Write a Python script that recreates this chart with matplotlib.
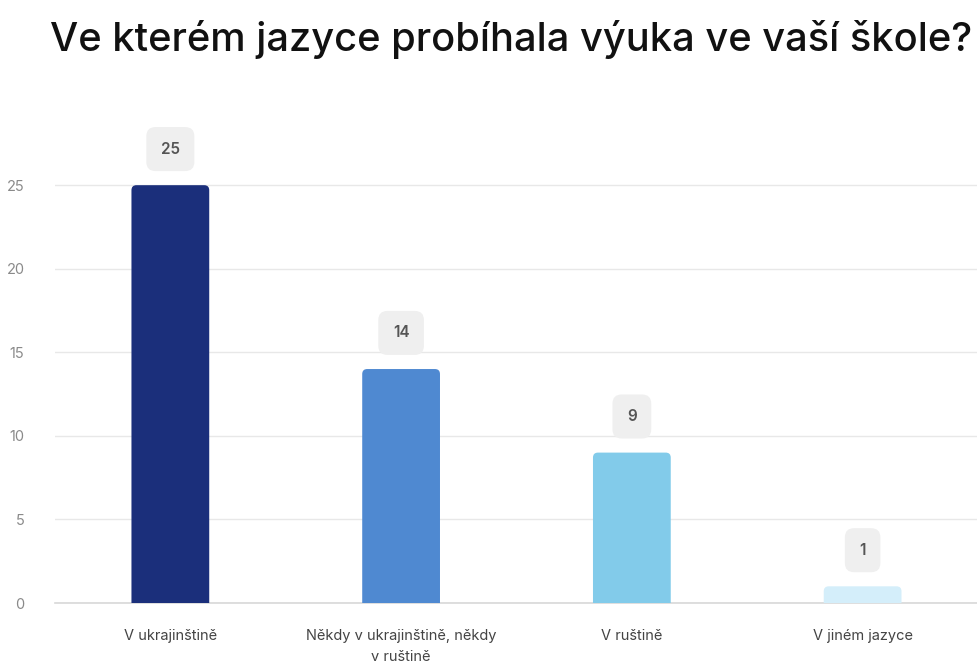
import matplotlib
matplotlib.use("Agg")
import matplotlib.pyplot as plt
from matplotlib.patches import FancyBboxPatch

categories = ["V ukrajinštině", "Někdy v ukrajinštině, někdy\nv ruštině", "V ruštině", "V jiném jazyce"]
values = [25, 14, 9, 1]
colors = ["#1b2f7b", "#4f89d1", "#82cbea", "#d4eefa"]
yticks = [0, 5, 10, 15, 20, 25]

plt.rcParams['font.family'] = ['Inter', 'DejaVu Sans']

fig = plt.figure(figsize=(9.78, 6.65), dpi=100)
ax = fig.add_axes([0.0562, 0.0932, 0.9438, 0.754])
ax.set_xlim(-0.5, 3.5)
ax.set_ylim(0, 30)

width = 0.337
bars = ax.bar(range(len(values)), values, width=width, color=colors)
px_x = 0.9438 * 978 / 4.0
px_y = 0.754 * 665 / 30.0
r = 5 / px_x
aspect = px_x / px_y
for b, c in zip(bars, colors):
    x0, w, h = b.get_x(), b.get_width(), b.get_height()
    b.set_visible(False)
    ext = 0.4
    p = FancyBboxPatch((x0, -ext), w, h + ext,
                       boxstyle=f"round,pad=0,rounding_size={r}",
                       mutation_aspect=aspect, facecolor=c, edgecolor="none", zorder=3)
    ax.add_patch(p)

for i, v in enumerate(values):
    ax.annotate(str(v), (i, v), xytext=(0, 26), textcoords="offset points",
                ha="center", va="center", fontsize=11, color="#555555", fontweight="semibold",
                bbox=dict(boxstyle="round,pad=0.95,rounding_size=0.6", facecolor="#efefef", edgecolor="none"),
                zorder=4)

ax.set_yticks(yticks)
ax.grid(axis="y", color="#e8e8e8", linewidth=1, zorder=0)
ax.set_axisbelow(True)
for s in ["left", "right", "top"]:
    ax.spines[s].set_visible(False)
ax.spines["bottom"].set_color("#d8d8d8")
ax.spines["bottom"].set_linewidth(1.2)
ax.tick_params(axis="y", length=0, pad=22, labelsize=10.5, labelcolor="#8a8a8a")
ax.tick_params(axis="x", length=0, pad=19, labelsize=10.5, labelcolor="#444444")
ax.set_xticks(range(len(categories)))
ax.set_xticklabels(categories, linespacing=1.6)

fig.text(0.5225, 0.94, "Ve kterém jazyce probíhala výuka ve vaší škole?", ha="center", va="center",
         fontsize=28.7, color="#111111", fontweight="medium")

fig.savefig("out.png", dpi=100)
